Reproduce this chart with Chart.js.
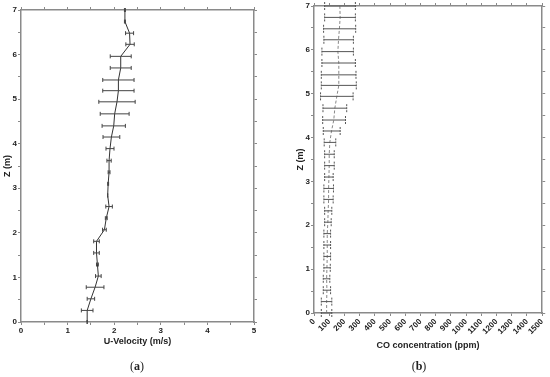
<!DOCTYPE html>
<html>
<head>
<meta charset="utf-8">
<script src="https://cdn.jsdelivr.net/npm/chart.js@4"></script>
<style>
  body { margin: 0; background: #fff; }
  #wrap { position: relative; width: 550px; height: 377px; }
  .box { position: absolute; top: 0; width: 275px; height: 377px; }
  .cap { position: absolute; top: 359px; width: 40px; margin-left: -20px; text-align: center;
         font-family: "Liberation Serif", "DejaVu Serif", serif; font-size: 12px; color: #222; }
</style>
</head>
<body>
<div id="wrap">
  <div class="box" style="left:0"><canvas id="chartA"></canvas></div>
  <div class="box" style="left:275px"><canvas id="chartB"></canvas></div>
  <div class="cap" style="left:137px">(<b>a</b>)</div>
  <div class="cap" style="left:419px">(<b>b</b>)</div>
</div>
<script>
// alturas de medicion (m), de abajo hacia arriba
const zLevels = [0, 0.26, 0.52, 0.78, 1.03, 1.29, 1.55, 1.81, 2.07, 2.33, 2.59, 2.84, 3.10, 3.36,
  3.62, 3.89, 4.15, 4.40, 4.67, 4.94, 5.19, 5.43, 5.70, 5.96, 6.23, 6.48, 6.74, 7.0];

// (a) velocidad U (m/s) y su error
const uVel = [1.42, 1.42, 1.50, 1.59, 1.66, 1.64, 1.62, 1.62, 1.79, 1.83, 1.89, 1.86, 1.87, 1.89,
  1.89, 1.91, 1.94, 1.99, 2.01, 2.06, 2.09, 2.09, 2.14, 2.14, 2.34, 2.33, 2.23, 2.23];
const uErr = [0, 0.125, 0.08, 0.19, 0.06, 0.02, 0.06, 0.06, 0.04, 0.02, 0.07, 0.0, 0.01, 0.02,
  0.046, 0.086, 0.18, 0.25, 0.31, 0.39, 0.336, 0.336, 0.225, 0.225, 0.09, 0.086, 0.01, 0.01];

// (b) concentracion de CO (ppm): media, minimo y maximo
const coMean = [83, 83, 85, 83, 85, 87, 87, 87, 91, 93, 96, 96, 98, 100,
  100, 104, 115, 130, 137, 150, 163, 163, 163, 157, 161, 167, 172, 170];
const coLow = [48, 48, 61, 61, 65, 65, 65, 65, 70, 70, 65, 65, 70, 70,
  70, 67, 61, 57, 59, 43, 48, 48, 52, 52, 65, 63, 70, 70];
const coHigh = [117, 117, 109, 104, 107, 109, 109, 109, 113, 117, 126, 128, 126, 133,
  133, 143, 172, 207, 215, 257, 278, 276, 272, 259, 259, 274, 272, 272];

// etiquetas de los ejes
const uTicksLabel = [0, 1, 2, 3, 4, 5];
const zTicksLabel = [0, 1, 2, 3, 4, 5, 6, 7];
const coTicksLabel = [0, 100, 200, 300, 400, 500, 600, 700, 800, 900, 1000, 1100, 1200, 1300, 1400, 1500];

const axisColor = '#8a8a8a';
const tickFont = { family: 'Liberation Sans', size: 8, weight: 'bold' };
const titleFont = { family: 'Liberation Sans', size: 9, weight: 'bold' };

// barras de error horizontales dibujadas con las escalas del grafico
function makeErrorBars(low, high, color, capHalf, dash) {
  return {
    id: 'errorBars',
    afterDatasetsDraw(chart) {
      const { ctx, scales } = chart;
      const x = scales.x, y = scales.y;
      ctx.save();
      ctx.strokeStyle = color;
      ctx.lineWidth = 1;
      low.forEach((lo, i) => {
        const x1 = x.getPixelForValue(lo);
        const x2 = x.getPixelForValue(high[i]);
        const py = y.getPixelForValue(zLevels[i]);
        ctx.setLineDash([]);
        ctx.beginPath();
        ctx.moveTo(x1, py); ctx.lineTo(x2, py);
        ctx.stroke();
        ctx.setLineDash(dash);
        ctx.beginPath();
        ctx.moveTo(x1, py - capHalf); ctx.lineTo(x1, py + capHalf);
        ctx.moveTo(x2, py - capHalf); ctx.lineTo(x2, py + capHalf);
        ctx.stroke();
      });
      ctx.restore();
    }
  };
}

function frameAxes(xMin, xMax, xStep, labelsX, xTitle, rotate, yTitle) {
  return {
    x: {
      type: 'linear', position: 'bottom', min: xMin, max: xMax,
      afterFit: (s) => { s.height = rotate ? 38 : 25; },
      ticks: { stepSize: xStep, font: tickFont, color: '#222', padding: 1,
        maxRotation: rotate ? 45 : 0, minRotation: rotate ? 45 : 0, autoSkip: false,
        callback: (v) => labelsX.includes(v) ? String(v) : '' },
      grid: { drawOnChartArea: false, tickLength: 3, color: axisColor },
      border: { color: axisColor, width: 1.5 },
      title: { display: true, text: xTitle, font: titleFont, color: '#222', padding: { top: 2, bottom: 0 } }
    },
    x2: {
      type: 'linear', position: 'top', min: xMin, max: xMax,
      afterFit: (s) => { s.height = 0; },
      ticks: { display: false, stepSize: xStep },
      grid: { drawOnChartArea: false, tickLength: 3, color: axisColor },
      border: { color: axisColor, width: 1.5 }
    },
    y: {
      type: 'linear', position: 'left', min: 0, max: 7,
      afterFit: (s) => { s.width = 21; },
      ticks: { stepSize: 0.5, font: tickFont, color: '#222', padding: 1,
        callback: (v) => zTicksLabel.includes(v) ? String(v) : '' },
      grid: { drawOnChartArea: false, tickLength: 3, color: axisColor },
      border: { color: axisColor, width: 1.5 },
      title: { display: true, text: yTitle, font: titleFont, color: '#222', padding: { top: 2, bottom: 0 } }
    },
    y2: {
      type: 'linear', position: 'right', min: 0, max: 7,
      afterFit: (s) => { s.width = 0; },
      ticks: { display: false, stepSize: 0.5 },
      grid: { drawOnChartArea: false, tickLength: 3, color: axisColor },
      border: { color: axisColor, width: 1.5 }
    }
  };
}

new Chart(document.getElementById('chartA'), {
  type: 'scatter',
  data: {
    datasets: [{
      data: uVel.map((v, i) => ({ x: v, y: zLevels[i] })),
      showLine: true, borderColor: '#333', borderWidth: 1, pointRadius: 0, tension: 0
    }]
  },
  options: {
    animation: false, responsive: true, maintainAspectRatio: false,
    layout: { padding: { left: 0, right: 21, top: 10, bottom: 30 } },
    plugins: { legend: { display: false }, tooltip: { enabled: false } },
    scales: frameAxes(0, 5, 0.5, uTicksLabel, 'U-Velocity (m/s)', false, 'Z (m)')
  },
  plugins: [makeErrorBars(uVel.map((v, i) => v - uErr[i]), uVel.map((v, i) => v + uErr[i]), '#444', 2, [])]
});

new Chart(document.getElementById('chartB'), {
  type: 'scatter',
  data: {
    datasets: [{
      data: coMean.map((v, i) => ({ x: v, y: zLevels[i] })),
      showLine: true, borderColor: '#888', borderWidth: 1, borderDash: [3, 2], pointRadius: 0, tension: 0
    }]
  },
  options: {
    animation: false, responsive: true, maintainAspectRatio: false,
    layout: { padding: { left: 18, right: 6, top: 6, bottom: 26 } },
    plugins: { legend: { display: false }, tooltip: { enabled: false } },
    scales: frameAxes(0, 1500, 100, coTicksLabel, 'CO concentration (ppm)', true, 'Z (m)')
  },
  plugins: [makeErrorBars(coLow, coHigh, '#555', 4, [2, 1])]
});
</script>
</body>
</html>
